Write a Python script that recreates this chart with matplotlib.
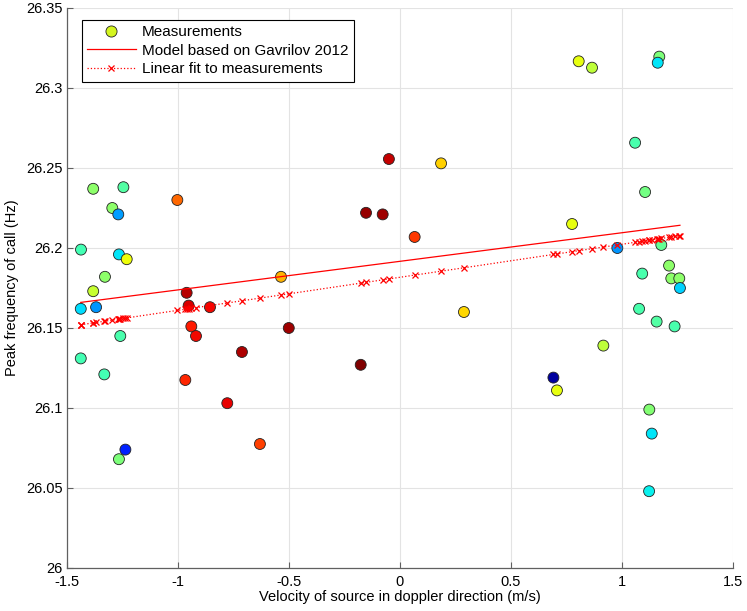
import numpy as np
import matplotlib
matplotlib.use("Agg")
import matplotlib.pyplot as plt
from matplotlib.ticker import FuncFormatter
from matplotlib.lines import Line2D

plt.rcParams['font.family'] = ['Liberation Sans', 'DejaVu Sans']
plt.rcParams['font.size'] = 10

# %% data
velocity = [-1.382, -1.246, -1.003, -1.296, -1.269, -0.050, -0.153, -0.078, -1.437, -1.266,
            -1.231, -1.329, -1.382, -0.536, -0.961, -1.438, -1.369, -0.952, -0.856, -0.940,
            -0.919, -0.501, -1.260, -1.438, -1.332, -0.712, -0.177, -0.967, -0.778, -0.631,
            -1.237, -1.266, 0.805, 0.865, 1.168, 1.161, 1.059, 0.185, 1.104, 0.066,
            0.775, 0.979, 1.177, 1.212, 1.222, 1.258, 1.091, 1.261, 0.288, 1.077,
            1.156, 1.237, 0.916, 0.691, 0.707, 1.123, 1.134, 1.122]
peak_freq = [26.237, 26.238, 26.230, 26.225, 26.221, 26.2556, 26.222, 26.221, 26.199, 26.196,
             26.193, 26.182, 26.173, 26.182, 26.172, 26.162, 26.163, 26.164, 26.163, 26.151,
             26.145, 26.150, 26.145, 26.131, 26.121, 26.135, 26.127, 26.1175, 26.103, 26.0775,
             26.074, 26.068, 26.3167, 26.3127, 26.3196, 26.3158, 26.2658, 26.2529, 26.235, 26.2069,
             26.215, 26.200, 26.2019, 26.189, 26.181, 26.181, 26.184, 26.175, 26.160, 26.162,
             26.154, 26.151, 26.139, 26.119, 26.111, 26.099, 26.084, 26.048]
color_value = [0.52, 0.45, 0.80, 0.52, 0.28, 0.94, 0.98, 0.97, 0.43, 0.35,
               0.64, 0.52, 0.59, 0.72, 0.95, 0.34, 0.27, 0.92, 0.90, 0.88,
               0.90, 0.97, 0.44, 0.43, 0.43, 0.96, 1.00, 0.87, 0.91, 0.84,
               0.16, 0.50, 0.63, 0.58, 0.50, 0.35, 0.44, 0.69, 0.49, 0.85,
               0.63, 0.27, 0.47, 0.52, 0.52, 0.52, 0.44, 0.33, 0.68, 0.44,
               0.45, 0.44, 0.58, 0.03, 0.63, 0.51, 0.35, 0.36]

model_v = [-1.438, 1.261]
model_f = [26.166, 26.2142]

# linear fit coefficients
fit_slope = 0.02064
fit_intercept = 26.1817

# %% linear fit evaluated at the measurement velocities
v = np.array(velocity)
f = np.array(peak_freq)
vs = np.sort(v)
fit_f = fit_intercept + fit_slope * vs

# %% plot
fig = plt.figure(figsize=(7.47, 6.11), dpi=100)
ax = fig.add_axes([67/747, 43/611, 666/747, 560/611])

ax.scatter(v, f, c=color_value, cmap='jet', vmin=0, vmax=1, s=62,
           edgecolors='#222222', linewidths=0.6, zorder=3)
ax.plot(model_v, model_f, '-', color='red', lw=0.9, zorder=4)
ax.plot(vs, fit_f, ':', color='red', lw=0.9, marker='x', ms=5, mew=0.9, zorder=4)

ax.set_xlim(-1.5, 1.5)
ax.set_ylim(26, 26.35)
ax.set_xticks(np.arange(-1.5, 1.51, 0.5))
ax.set_yticks(np.arange(26, 26.351, 0.05))
ax.xaxis.set_major_formatter(FuncFormatter(lambda x, pos: '%g' % round(x, 2)))
ax.yaxis.set_major_formatter(FuncFormatter(lambda y, pos: '%g' % round(y, 2)))
ax.grid(True, color='#e3e3e3', lw=0.8, zorder=0)
ax.set_axisbelow(True)
for s in ['top', 'right']:
    ax.spines[s].set_visible(False)
for s in ['left', 'bottom']:
    ax.spines[s].set_color('#606060')
    ax.spines[s].set_linewidth(0.9)
ax.tick_params(direction='in', length=4, color='#606060', labelsize=10.5)
ax.tick_params(axis='x', pad=5)
ax.tick_params(axis='y', pad=3)
ax.set_xlabel('Velocity of source in doppler direction (m/s)', fontsize=10.5, labelpad=1)
ax.set_ylabel('Peak frequency of call (Hz)', fontsize=10.5, labelpad=5)

handles = [
    Line2D([], [], ls='none', marker='o', ms=8, mfc='#d4f51f', mec='#222222', mew=0.6),
    Line2D([], [], ls='-', color='red', lw=0.9),
    Line2D([], [], ls=':', color='red', lw=0.9, marker='x', ms=5, mew=0.9),
]
labels = ['Measurements', 'Model based on Gavrilov 2012', 'Linear fit to measurements']
leg = ax.legend(handles, labels, loc='upper left', bbox_to_anchor=(0.022, 0.979),
                borderaxespad=0, fancybox=False, edgecolor='black', framealpha=1,
                fontsize=11, handlelength=3.2, handletextpad=0.4, labelspacing=0.3,
                borderpad=0.35, markerfirst=True)
leg.get_frame().set_linewidth(0.8)

fig.savefig('out.png', dpi=100)
